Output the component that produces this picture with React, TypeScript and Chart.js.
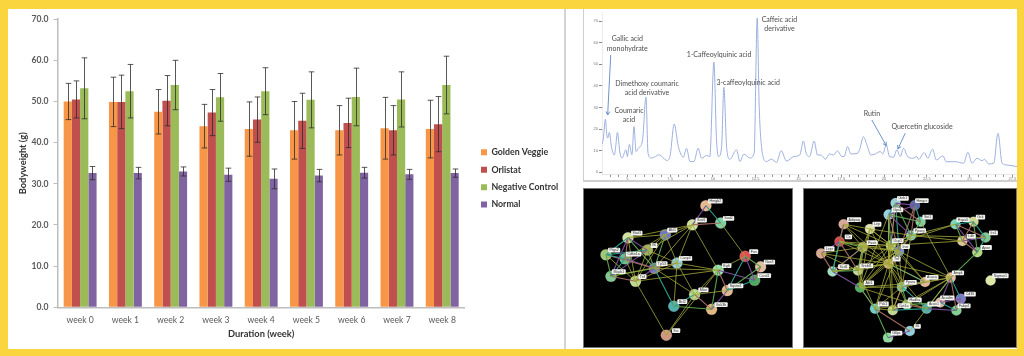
import React, { useEffect, useRef } from "react";
import { Chart, registerables } from "chart.js";

Chart.register(...registerables);

const YELLOW = "#FBD53E";
const weeks = ["week 0", "week 1", "week 2", "week 3", "week 4", "week 5", "week 6", "week 7", "week 8"];
const goldenVeggie = [50, 49.9, 47.5, 44, 43.3, 43, 43, 43.5, 43.3];
const orlistat = [50.5, 49.9, 50.2, 47.3, 45.6, 45.3, 44.8, 43, 44.5];
const negativeControl = [53.2, 52.5, 54, 51, 52.5, 50.4, 51.1, 50.5, 54];
const normal = [32.6, 32.6, 33, 32.2, 31.2, 32, 32.7, 32.3, 32.6];
const goldenVeggieErr = [4.4, 6, 5.4, 5.3, 6.6, 7, 6, 7.5, 7];
const orlistatErr = [4.5, 6.5, 6.1, 5.6, 5.5, 6.7, 6, 6, 6.7];
const negativeControlErr = [7.4, 6.5, 6, 5.8, 5.7, 6.8, 7, 6.7, 7];
const normalErr = [1.6, 1.4, 1.1, 1.6, 2.4, 1.5, 1.3, 1.2, 1];

const chromTimes = [3.54,3.6,3.72,3.79,3.85,3.95,4.07,4.24,4.32,4.42,4.57,4.69,4.92,5,5.12,5.27,5.39,5.51,5.64,5.89,6.09,6.21,6.42,6.87,7.3,7.49,7.74,7.98,8.27,8.46,8.66,8.89,9.14,9.34,9.63,9.82,10.06,10.21,10.33,10.51,10.64,10.8,10.99,11.38,11.58,11.81,12.16,12.41,12.59,12.7,12.84,13.13,13.42,13.72,13.99,14.3,14.73,15.08,15.29,15.45,15.65,15.92,16.11,16.31,16.46,16.56,16.82,17.05,17.28,17.54,17.67,17.87,18.06,18.45,18.57,18.8,19,19.23,19.49,19.78,19.93,20.13,20.32,20.56,20.75,20.95,21.14,21.38,21.69,21.92,22.02,22.35,22.55,22.84,23.05,23.44,23.64,24.16,24.65,24.9,25.14,25.43,25.72,25.88,26.11,26.41,26.66,26.9,27.19,27.77];
const chromValues = [13.1,15.7,24.6,18.1,15.8,18.5,11.9,8,11.9,18.4,8.9,6.6,10.4,7.3,12.9,8.1,21.2,9.6,11.1,15,34.8,8.8,6.6,8.1,5.5,7.3,22.3,12,7,11.1,5,5,11.1,6.5,7.8,7.3,51,15,7.3,11.9,39.3,12,6,10.4,5,8.4,6.6,8.9,71.4,32,12,5,6.1,4.6,10,5.2,7.3,8.1,14.5,8.8,7.3,14.5,8,8,7,6,8.5,8,9.9,7.3,7.3,11.9,8.5,8.8,10.4,16.5,12.7,8,8.5,9.6,8.5,12.7,7.3,7,10.4,7.3,11.1,7.3,6.5,7.3,6,9.1,6.5,10.7,5.7,7.6,4.9,4.9,4.2,9.3,4.2,6.5,5.4,6,3.9,4.2,18.1,4.2,3.4,2.6];
const peakTexts = ["Gallic acid", "monohydrate", "Dimethoxy coumaric", "acid derivative", "Coumaric", "acid", "1-Caffeoylquinic acid", "3-caffeoylquinic acid", "Caffeic acid", "derivative", "Rutin", "Quercetin glucoside"];
const peakTextT = [5, 5, 6.15, 6.15, 5.1, 5.1, 10.36, 12.06, 13.89, 13.89, 19.29, 22.22];
const peakTextV = [61.6, 57.2, 41.2, 37, 28.4, 24.2, 54.3, 41.3, 70.5, 66.3, 27.3, 21.1];
const arrowFromT = [4.03, 19.29, 21.24];
const arrowFromV = [54.3, 24.2, 18.1];
const arrowToT = [3.85, 20.13, 20.81];
const arrowToV = [26.5, 12.3, 10.8];

const net1Names = ["Hmgb2","Sod1","Sod2","Akt1","Stat3","Il6","Ptgs2","Cdkn1a","Casp3","Tp53","Mapk1","Tnf","Fos","Nos3","Ccnd1","Egfr","Sqstm1","Mtor","Bcl2","Gsk3b","Src"];
const net1X = [410,367,457,281,162,224,92,153,318,246,108,186,535,584,565,449,478,374,308,428,284];
const net1Y = [63,125,119,157,167,207,222,235,249,266,292,308,227,261,305,272,338,351,389,399,483];
const net1Colors = ["#e8b98e","#cde0a0","#7fd0a0","#6f78c8","#cfe0a0","#a5b060","#a0c878","#60c090","#90d0e0","#8078c0","#80c890","#c0d890","#e05050","#e0c0a0","#50a860","#90e0b0","#e0b890","#b8d890","#50b0b0","#e0b880","#d09880"];
const net1LabelDX = [30,28,25,22,28,21,26,27,27,24,25,22,27,28,31,27,27,28,27,30,31];
const net1Weak = [[2,12],[1,3],[1,4],[1,5],[1,8],[1,9],[1,15],[3,4],[3,5],[3,8],[3,11],[3,7],[4,11],[5,8],[5,11],[6,11],[7,11],[8,10],[8,11],[8,15],[8,17],[8,18],[9,15],[9,17],[11,15],[11,20],[15,17],[15,20],[17,20],[12,15],[16,17]];
const net1Strong = [[0,1],[0,2],[1,2],[3,9],[4,5],[4,6],[4,7],[4,9],[4,10],[5,6],[5,7],[5,9],[5,10],[6,7],[6,9],[6,10],[7,9],[7,10],[8,9],[9,10],[9,11],[9,18],[10,11],[12,13],[12,14],[12,16],[13,14],[13,16],[14,15],[14,16],[15,16],[15,19],[16,19],[17,18],[17,19],[18,19]];

const net2Names = ["Gnb1","Hmgcr","Gpx1","Sirt1","Adipoq","Lep","Pparg","Cs","Fasn","Ucp1","Insr","Lepr","Tnf","Scd1","Srebf1","Akt1","Ppara","Acaca","Ampk","Cpt1a","Hadha","Acox1","Acadm","Cd36","Fabp4","Pck1","Il6","G6pc","Hspa5","Gck","Irs1","Ldlr","Apoe","Sigmar1"];
const net2X = [299,360,277,378,135,218,348,122,195,284,310,64,277,100,180,187,319,392,473,290,335,397,440,505,491,234,344,275,488,545,583,510,557,599];
const net2Y = [56,63,93,116,124,139,160,180,198,192,211,218,251,276,273,328,326,310,296,401,383,396,376,364,402,396,468,490,124,116,167,178,214,305];
const net2Colors = ["#9cd0d8","#6068a8","#98d0e0","#80d0a0","#d8a898","#e0e0b0","#80d8c0","#d84848","#b0c070","#c0d890","#7090d0","#d8a890","#e0b890","#a0e0c0","#c0d8a0","#50b060","#80d0c0","#e0b898","#e8b898","#c0d890","#a0d0a0","#50b0b0","#e0b8a0","#8078c8","#80d090","#70d0c8","#90d0e0","#90d8a0","#80d8b8","#d0d890","#80c890","#d8c890","#b0d880","#e0e8a8"];
const net2LabelDX = [23,22,28,22,33,22,27,28,30,22,20,26,25,35,27,28,27,22,23,35,25,23,22,29,24,26,24,27,24,22,25,28,28,31];
const net2Weak = [[4,5],[4,8],[4,9],[4,12],[5,6],[5,8],[5,9],[5,10],[5,12],[5,14],[5,15],[7,9],[7,10],[7,12],[8,9],[8,10],[8,12],[8,14],[8,15],[9,12],[9,14],[9,15],[9,16],[9,17],[9,19],[9,6],[9,28],[9,31],[10,12],[10,14],[10,15],[10,16],[10,17],[10,18],[10,25],[6,12],[6,15],[6,16],[6,28],[6,31],[6,30],[12,13],[12,14],[12,15],[12,16],[12,17],[12,18],[12,19],[12,20],[12,21],[12,25],[3,18],[11,8],[11,14],[11,12],[13,8],[13,12],[14,15],[15,16],[15,17],[15,21],[16,18],[17,18],[18,19],[18,20],[18,21],[21,26],[15,25],[25,19],[25,20],[16,25],[12,10],[14,25],[9,10],[2,12],[0,12],[2,15],[16,19]];
const net2Strong = [[0,1],[0,2],[0,3],[0,6],[1,2],[1,3],[1,6],[2,3],[2,6],[2,9],[2,10],[3,6],[0,9],[0,10],[1,10],[6,9],[6,10],[9,10],[4,7],[7,8],[7,11],[7,13],[7,14],[4,13],[8,13],[8,14],[11,13],[13,14],[13,15],[15,25],[25,26],[25,27],[26,27],[28,29],[28,30],[28,31],[28,32],[29,30],[29,31],[29,32],[30,31],[30,32],[31,32],[32,18],[18,22],[18,23],[18,24],[18,21],[22,23],[22,24],[23,24],[21,22],[21,24],[16,21],[16,19],[16,20],[19,20],[19,21],[20,21],[20,22],[16,17],[12,17]];

const edgeTints = ["#7a4f9c", "#2f9f8f", "#a06a60", "#5aa050"];

function errorBars(errors: number[][]) {
  return {
    id: "errorBars",
    afterDatasetsDraw(chart: any) {
      const { ctx, scales } = chart;
      ctx.save();
      ctx.strokeStyle = "rgba(45,45,45,0.8)";
      ctx.lineWidth = 1;
      errors.forEach((errs, d) => {
        const meta = chart.getDatasetMeta(d);
        const values = chart.data.datasets[d].data as number[];
        meta.data.forEach((bar: any, i: number) => {
          const up = scales.y.getPixelForValue(values[i] + errs[i]);
          const lo = scales.y.getPixelForValue(values[i] - errs[i]);
          const x = Math.round(bar.x) + 0.5;
          ctx.beginPath();
          ctx.moveTo(x, up); ctx.lineTo(x, lo);
          ctx.moveTo(x - 2.8, up); ctx.lineTo(x + 2.8, up);
          ctx.moveTo(x - 2.8, lo); ctx.lineTo(x + 2.8, lo);
          ctx.stroke();
        });
      });
      ctx.restore();
    },
  };
}

const moveLegend = {
  id: "moveLegend",
  afterLayout(chart: any) {
    const l = chart.legend;
    if (!l) return;
    l.left = 464.4;
    l.top -= 3.5;
    l.bottom -= 3.5;
  },
};

const peakNotes = {
  id: "peakNotes",
  afterDatasetsDraw(chart: any) {
    const { ctx, scales } = chart;
    ctx.save();
    ctx.fillStyle = "#4d4d4d";
    ctx.font = "7px Lato";
    ctx.textAlign = "center";
    ctx.textBaseline = "middle";
    peakTexts.forEach((t, i) => ctx.fillText(t, scales.x.getPixelForValue(peakTextT[i]), scales.y.getPixelForValue(peakTextV[i])));
    ctx.strokeStyle = "#6f92cc";
    ctx.lineWidth = 1;
    arrowFromT.forEach((_, i) => {
      const x0 = scales.x.getPixelForValue(arrowFromT[i]);
      const y0 = scales.y.getPixelForValue(arrowFromV[i]);
      const x1 = scales.x.getPixelForValue(arrowToT[i]);
      const y1 = scales.y.getPixelForValue(arrowToV[i]);
      const a = Math.atan2(y1 - y0, x1 - x0);
      ctx.beginPath();
      ctx.moveTo(x0, y0); ctx.lineTo(x1, y1);
      ctx.moveTo(x1 - 4 * Math.cos(a - 0.5), y1 - 4 * Math.sin(a - 0.5));
      ctx.lineTo(x1, y1);
      ctx.lineTo(x1 - 4 * Math.cos(a + 0.5), y1 - 4 * Math.sin(a + 0.5));
      ctx.stroke();
    });
    ctx.restore();
  },
};

function nodeLabels(names: string[], dx: number[]) {
  return {
    id: "nodeLabels",
    afterDatasetsDraw(chart: any) {
      const { ctx, scales } = chart;
      const pts = chart.data.datasets[chart.data.datasets.length - 1].data as { x: number; y: number }[];
      ctx.save();
      ctx.font = "3.6px 'Liberation Sans'";
      ctx.textAlign = "center";
      ctx.textBaseline = "middle";
      pts.forEach((p, i) => {
        const cx = scales.x.getPixelForValue(p.x + dx[i]);
        const cy = scales.y.getPixelForValue(p.y - 15);
        const w = ctx.measureText(names[i]).width + 3;
        ctx.fillStyle = "#f2f2ee";
        ctx.beginPath();
        ctx.roundRect(cx - w / 2, cy - 2.4, w, 4.8, 1);
        ctx.fill();
        ctx.fillStyle = "#333";
        ctx.fillText(names[i], cx, cy);
      });
      ctx.restore();
    },
  };
}

function networkConfig(names: string[], xs: number[], ys: number[], colors: string[], dx: number[], weak: number[][], strong: number[][], xMin: number, xMax: number, radius: number): any {
  const edge = (pair: number[], color: string, width: number) => ({
    type: "line",
    data: pair.map((n) => ({ x: xs[n], y: ys[n] })),
    borderColor: color,
    borderWidth: width,
    pointRadius: 0,
    tension: 0,
  });
  const datasets: any[] = [
    ...weak.map((p) => edge(p, "#a3a83a", 0.8)),
    ...strong.map((p, i) => edge(p, edgeTints[i % edgeTints.length], 1.1)),
    {
      type: "scatter",
      data: xs.map((x, i) => ({ x, y: ys[i] })),
      backgroundColor: colors,
      borderColor: "rgba(255,255,255,0.35)",
      borderWidth: 0.5,
      pointRadius: radius,
    },
  ];
  return {
    data: { datasets },
    plugins: [nodeLabels(names, dx)],
    options: {
      animation: false,
      responsive: false,
      layout: { padding: 0 },
      plugins: { legend: { display: false }, tooltip: { enabled: false } },
      scales: {
        x: { type: "linear", display: false, min: xMin, max: xMax },
        y: { type: "linear", display: false, min: 25, max: 505, reverse: true },
      },
    },
  };
}

const abs = (l: number, t: number, w: number, h: number): React.CSSProperties => ({ position: "absolute", left: l, top: t, width: w, height: h });

export default function App() {
  const barRef = useRef<HTMLCanvasElement>(null);
  const chromRef = useRef<HTMLCanvasElement>(null);
  const net1Ref = useRef<HTMLCanvasElement>(null);
  const net2Ref = useRef<HTMLCanvasElement>(null);

  useEffect(() => {
    const tickFont = { family: "Lato", size: 8.6, weight: "bold" as const };
    const titleFont = { family: "Lato", size: 9.3, weight: "bold" as const };
    const bars = new Chart(barRef.current!, {
      type: "bar",
      data: {
        labels: weeks,
        datasets: [
          { label: "Golden Veggie", data: goldenVeggie, backgroundColor: "#F79646" },
          { label: "Orlistat", data: orlistat, backgroundColor: "#C0504D" },
          { label: "Negative Control", data: negativeControl, backgroundColor: "#9BBB59" },
          { label: "Normal", data: normal, backgroundColor: "#8064A2" },
        ],
      },
      plugins: [errorBars([goldenVeggieErr, orlistatErr, negativeControlErr, normalErr]), moveLegend],
      options: {
        animation: false,
        responsive: false,
        layout: { padding: { top: 5.9, right: 3.4, left: 0, bottom: 0 } },
        datasets: { bar: { categoryPercentage: 0.727, barPercentage: 1 } },
        plugins: {
          tooltip: { enabled: false },
          legend: {
            position: "right",
            labels: { boxWidth: 6, boxHeight: 6, padding: 8.6, color: "#333", font: { family: "Lato", size: 8.8, weight: "bold" } },
          },
        },
        scales: {
          x: {
            grid: { display: false, drawTicks: false },
            border: { color: "#bdbdbd", width: 1.5 },
            ticks: { color: "#595959", font: { family: "Lato", size: 8.6 }, padding: 8 },
            title: { display: true, text: "Duration (week)", color: "#333", font: titleFont, padding: { top: 2, bottom: 9.4 } },
            afterFit: (s: any) => { s.height = 41.7; },
          },
          y: {
            min: 0,
            max: 70,
            ticks: { stepSize: 10, color: "#595959", font: tickFont, padding: 5, callback: (v: any) => Number(v).toFixed(1) },
            grid: { drawOnChartArea: false, color: "#bdbdbd", tickLength: 4 },
            border: { color: "#bdbdbd", width: 1.5 },
            title: { display: true, text: "Bodyweight (g)", color: "#333", font: titleFont, padding: { top: 9.4, bottom: 0 } },
            afterFit: (s: any) => { s.width = 49.5; },
          },
        },
      } as any,
    });

    const chrom = new Chart(chromRef.current!, {
      type: "line",
      data: {
        datasets: [{
          data: chromTimes.map((t, i) => ({ x: t, y: chromValues[i] })),
          borderColor: "#9db0de",
          borderWidth: 1,
          pointRadius: 0,
          cubicInterpolationMode: "monotone",
        }],
      },
      plugins: [peakNotes],
      options: {
        animation: false,
        responsive: false,
        layout: { padding: { top: 3.4, right: 0, left: 0, bottom: 0 } },
        plugins: { legend: { display: false }, tooltip: { enabled: false } },
        scales: {
          x: {
            type: "linear",
            min: 3.52,
            max: 27.77,
            grid: { drawOnChartArea: false, color: "#888", tickLength: 2 },
            border: { color: "#cfcfcf", width: 0.5 },
            ticks: {
              stepSize: 0.5,
              includeBounds: false,
              autoSkip: false,
              maxRotation: 0,
              padding: 0,
              color: "#777",
              font: { size: 4, family: "Liberation Sans" },
              callback: (v: any) => (Math.abs(Number(v) % 2.5) < 0.01 ? String(Number(v)) : ""),
            },
            afterFit: (s: any) => { s.height = 7.1; },
          },
          y: {
            min: -1.2,
            max: 74,
            grid: { drawOnChartArea: false, color: "#888", tickLength: 3 },
            border: { color: "#d8d8d8", width: 0.5 },
            ticks: { stepSize: 10, includeBounds: false, padding: 1, color: "#777", font: { size: 4, family: "Liberation Sans" } },
            afterFit: (s: any) => { s.width = 19; },
          },
        },
      } as any,
    });

    const net1 = new Chart(net1Ref.current!, networkConfig(net1Names, net1X, net1Y, net1Colors, net1LabelDX, net1Weak, net1Strong, 38, 668, 5.5));
    const net2 = new Chart(net2Ref.current!, networkConfig(net2Names, net2X, net2Y, net2Colors, net2LabelDX, net2Weak, net2Strong, 24, 665, 5));

    return () => { bars.destroy(); chrom.destroy(); net1.destroy(); net2.destroy(); };
  }, []);

  const soft = "blur(0.5px)";
  return (
    <div style={{ position: "fixed", left: 0, top: 0, width: 1024, height: 356, background: YELLOW, overflow: "hidden" }}>
      <div style={{ ...abs(8, 9, 1009, 340), background: "#fff" }} />
      <div style={{ ...abs(564, 9, 2, 340), background: "#d4d4d4" }} />
      <canvas ref={barRef} width={556} height={340} style={{ ...abs(8, 9, 556, 340), filter: soft }} />
      <div style={{ ...abs(583, 9, 1, 172), background: "#cfcfcf" }} />
      <div style={{ ...abs(583, 180, 434, 2), background: "#cfcfcf" }} />
      <canvas ref={chromRef} width={434} height={173} style={{ ...abs(583, 9, 434, 173), filter: soft }} />
      <div style={{ ...abs(583, 188, 210, 160), background: "#000", outline: "1px solid #777", outlineOffset: -1 }}>
        <canvas ref={net1Ref} width={210} height={160} style={{ ...abs(0, 0, 210, 160), filter: soft }} />
      </div>
      <div style={{ ...abs(803, 188, 214, 160), background: "#000", outline: "1px solid #777", outlineOffset: -1 }}>
        <canvas ref={net2Ref} width={214} height={160} style={{ ...abs(0, 0, 214, 160), filter: soft }} />
      </div>
    </div>
  );
}
